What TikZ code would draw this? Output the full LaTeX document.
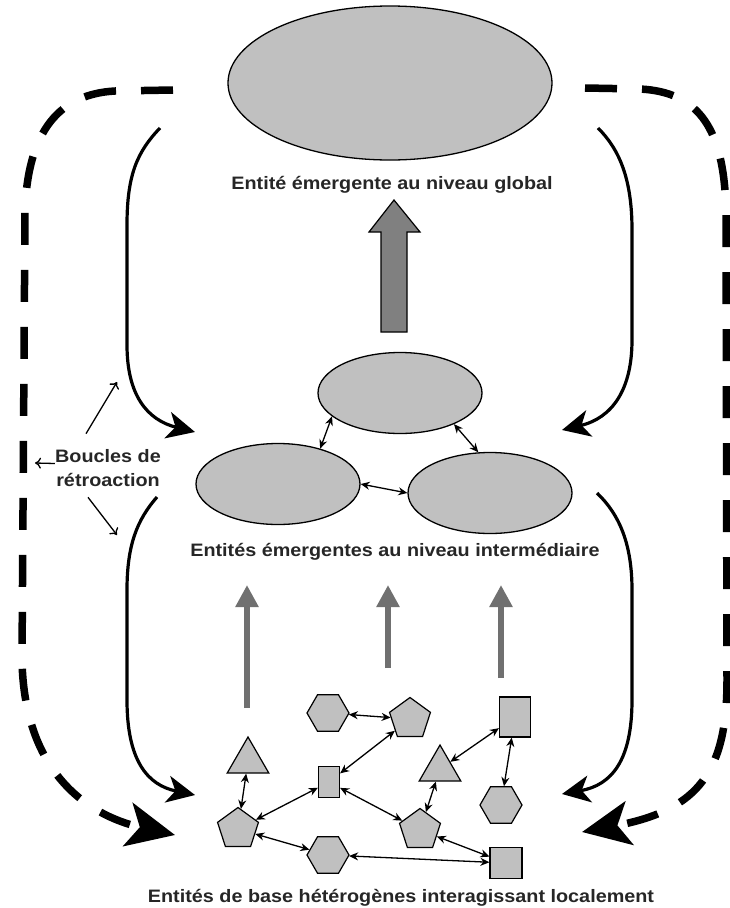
\documentclass[tikz,border=0pt]{standalone}
\usepackage{fontspec}
\setmainfont{Liberation Sans}[FakeStretch=1.1]
\usepackage{tikz}
\usetikzlibrary{shapes, arrows.meta}
\definecolor{shp}{RGB}{192,192,192}
\definecolor{blk}{RGB}{128,128,128}
\definecolor{upg}{RGB}{112,112,112}
\tikzstyle{el}=[ellipse, draw, fill=shp, line width=1.3pt]
\tikzstyle{mel}=[minimum width=164pt, minimum height=81pt]
\tikzstyle{hex}=[regular polygon, regular polygon sides=6, minimum size=42pt, inner sep=0pt, draw, fill=shp, line width=1.2pt]
\tikzstyle{pen}=[regular polygon, regular polygon sides=5, minimum size=43pt, inner sep=0pt, draw, fill=shp, line width=1.2pt]
\tikzstyle{tri}=[regular polygon, regular polygon sides=3, minimum size=48pt, inner sep=0pt, draw, fill=shp, line width=1.2pt]
\tikzstyle{rct}=[rectangle, inner sep=0pt, draw, fill=shp, line width=1.2pt]
\tikzstyle{lnk}=[{Stealth[length=9pt,width=8pt]}-{Stealth[length=9pt,width=8pt]}, line width=1.3pt]
\tikzstyle{fb}=[line width=3.2pt, -{Stealth[length=28pt,width=27pt,inset=8pt]}]
\tikzstyle{dsh}=[line width=7.5pt, dash pattern=on 32pt off 25pt, -{Stealth[length=48pt,width=44pt,inset=12pt]}]
\tikzstyle{upar}=[line width=6pt, draw=upg, -{Triangle[length=22pt,width=22pt]}]
\tikzstyle{thn}=[line width=1.3pt, -{To[length=6pt,width=11pt]}]
\tikzstyle{lbl}=[font=\fontsize{18}{24}\selectfont\bfseries, text=black!85, inner sep=0pt]

\begin{document}
\begin{tikzpicture}[x=1pt, y=-1pt]
\useasboundingbox (0, 0) rectangle (730, 908);

% global level
\draw (390, 83) node [el, minimum width=324pt, minimum height=154pt] (glb) {};
\draw (392, 189) node [lbl, anchor=base] (glbt) {Entité émergente au niveau global};
\draw [fill=blk, line width=1.2pt] (381, 332) -- (381, 232) -- (369, 232) -- (394, 200)
  -- (420, 232) -- (407, 232) -- (407, 332) -- cycle;

% intermediate level
\draw (400, 393) node [el, mel] (m1) {};
\draw (278, 484) node [el, mel] (m2) {};
\draw (490, 493) node [el, mel] (m3) {};
\draw (m1.199) -- (m2.40) [lnk];
\draw (m1.330) -- (m3.106) [lnk];
\draw (m2.0) -- (m3.180) [lnk];
\draw (395, 556) node [lbl, anchor=base] (midt) {Entités émergentes au niveau intermédiaire};

% base level
\draw (328, 713) node [hex] (h1) {};
\draw (410, 719) node [pen] (p1) {};
\draw (515, 717) node [rct, minimum width=31pt, minimum height=40pt] (r1) {};
\draw (248, 761) node [tri] (t1) {};
\draw (329, 782) node [rct, minimum width=21pt, minimum height=31pt] (r2) {};
\draw (440, 769) node [tri] (t2) {};
\draw (501, 805) node [hex] (h2) {};
\draw (238, 829) node [pen] (p2) {};
\draw (420, 830) node [pen] (p3) {};
\draw (328, 855) node [hex] (h3) {};
\draw (506, 863) node [rct, minimum width=32pt, minimum height=31pt] (r3) {};

\foreach \a/\b in {h1/p1, p1/r2, r1/t2, r1/h2, t1/p2, r2/p2, r2/p3, t2/p3, p2/h3, p3/r3, h3/r3}
  \draw (\a) -- (\b) [lnk];

\draw (401, 902) node [lbl, anchor=base] (bst) {Entités de base hétérogènes interagissant localement};

% emergence
\foreach \i/\x/\y in {1/247/708, 2/388/668, 3/501/678} {
  \coordinate (u\i) at (\x, \y);
  \coordinate (v\i) at (\x, 585);
  \draw (u\i) -- (v\i) [upar];
}

% feedback loops
\coordinate (lu1) at (160, 128);
\coordinate (lu2) at (195, 432);
\coordinate (ll1) at (157, 497);
\coordinate (ll2) at (195, 795);
\coordinate (ru1) at (598, 128);
\coordinate (ru2) at (562, 430);
\coordinate (rl1) at (597, 493);
\coordinate (rl2) at (562, 794);
\coordinate (ld1) at (173, 90);
\coordinate (ld2) at (175, 835);
\coordinate (rd1) at (585, 88);
\coordinate (rd2) at (582, 832);

\draw (lu1) .. controls (137, 152) and (127, 175) .. (127, 225) -- (127, 345)
  .. controls (127, 395) and (147, 420) .. (lu2) [fb];
\draw (ll1) .. controls (137, 520) and (127, 545) .. (127, 590) -- (127, 700)
  .. controls (127, 760) and (147, 785) .. (ll2) [fb];
\draw (ru1) .. controls (620, 150) and (632, 180) .. (632, 230) -- (632, 340)
  .. controls (632, 390) and (612, 418) .. (ru2) [fb];
\draw (rl1) .. controls (620, 515) and (632, 545) .. (632, 590) -- (632, 700)
  .. controls (632, 760) and (612, 785) .. (rl2) [fb];

\draw (ld1) -- (115, 91) .. controls (60, 94) and (28, 130) .. (25, 210) -- (22, 660)
  .. controls (24, 770) and (85, 815) .. (ld2) [dsh];
\draw (rd1) -- (640, 89) .. controls (700, 92) and (724, 130) .. (726, 210) -- (727, 680)
  .. controls (727, 770) and (700, 810) .. (rd2) [dsh];

\draw (108, 468.5) node [lbl, align=center] (bcl) {Boucles de\\rétroaction};
\coordinate (b1) at (117, 382);
\coordinate (b2) at (35, 463);
\coordinate (b3) at (117, 535);
\draw ([xshift=-22pt, yshift=16pt]bcl.north) -- (b1) [thn];
\draw ([yshift=5pt]bcl.west) -- (b2) [thn];
\draw ([xshift=-20pt, yshift=-10pt]bcl.south) -- (b3) [thn];

\end{tikzpicture}
\end{document}
